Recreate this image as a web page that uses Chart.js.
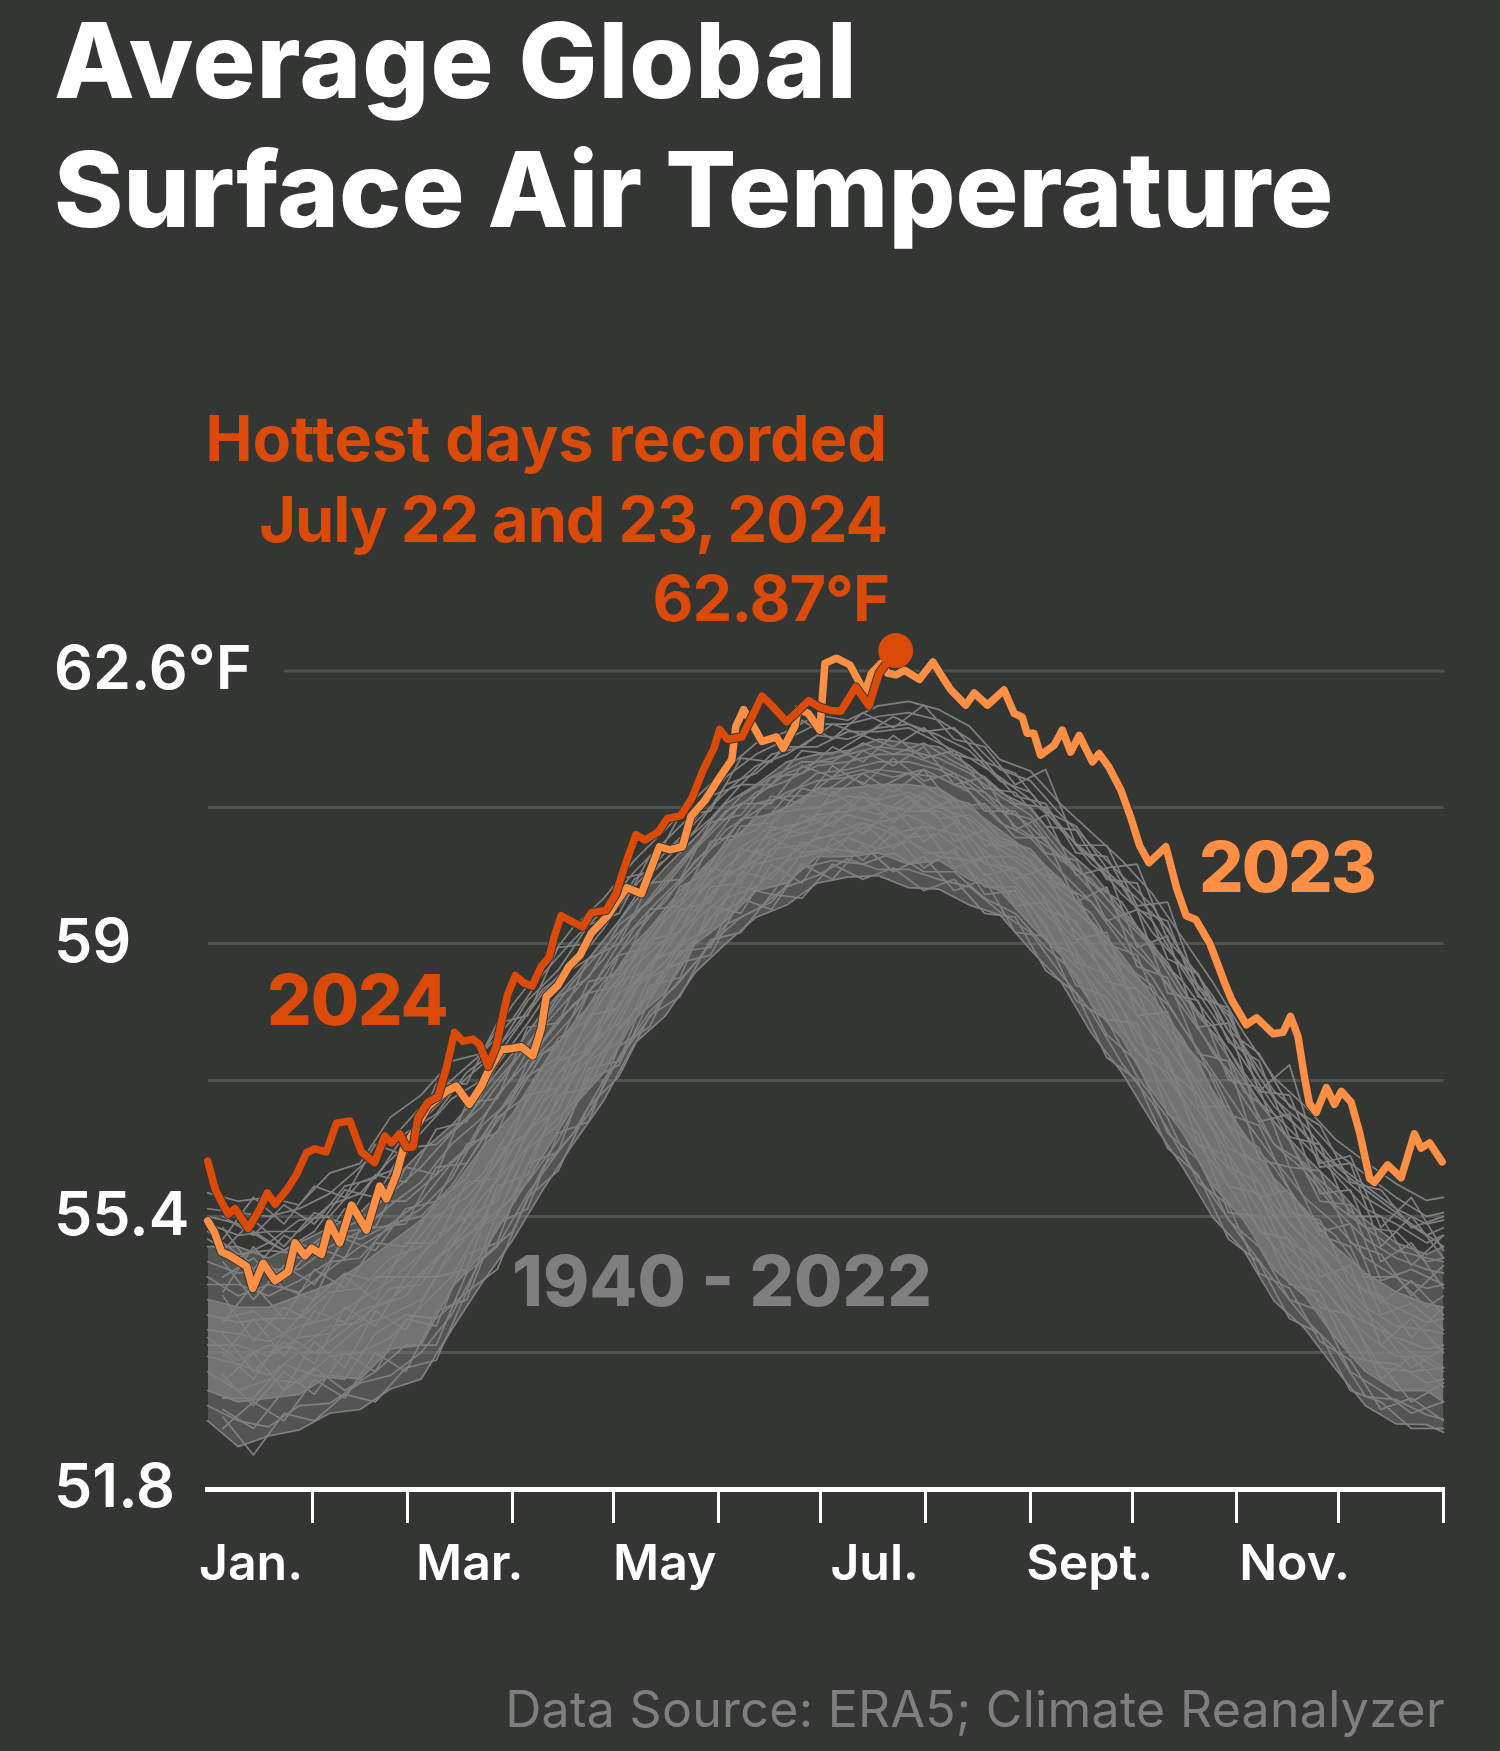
<!DOCTYPE html>
<html>
<head>
<meta charset="utf-8">
<title>Average Global Surface Air Temperature</title>
<script src="https://cdn.jsdelivr.net/npm/chart.js@4"></script>
<style>
    html, body { margin: 0; padding: 0; background: #333633; }
    #wrap { position: relative; width: 1500px; height: 1751px; overflow: hidden; font-family: Inter, sans-serif; }
    #chart { position: absolute; left: 0; top: 0; }
    .note { position: absolute; line-height: 1; white-space: nowrap; }
    .title { left: 54px; color: #fff; font-size: 105px; font-weight: 800; }
    .peak { right: 613px; color: #dc4a0a; font-size: 63px; font-weight: 700; }
    .year { font-size: 70px; font-weight: 800; }
</style>
</head>
<body>
<div id="wrap">
    <canvas id="chart" width="1500" height="1751"></canvas>
    <div class="note title" style="top:7px;letter-spacing:1px">Average Global</div>
    <div class="note title" style="top:136px">Surface Air Temperature</div>
    <div class="note peak" style="top:407px">Hottest days recorded</div>
    <div class="note peak" style="top:488px;letter-spacing:-1px">July 22 and 23, 2024</div>
    <div class="note peak" style="top:567px;right:611px;letter-spacing:-1px">62.87°F</div>
    <div class="note year" style="top:965px;left:267px;letter-spacing:-1px;color:#dc4a0a">2024</div>
    <div class="note year" style="top:832px;left:1199px;letter-spacing:-2px;color:#ff8f45">2023</div>
    <div class="note year" style="top:1246px;left:512px;color:#7f7f7f">1940 - 2022</div>
    <div class="note" style="top:1684px;right:55px;color:#7f7f7f;font-size:50px;letter-spacing:0.3px">Data Source: ERA5; Climate Reanalyzer</div>
</div>
<script>
const yTicks = [51.8, 53.6, 55.4, 57.2, 59, 60.8, 62.6];
const yLabels = ['51.8', '', '55.4', '', '59', '', '62.6°F'];
const monthStarts = [31, 59, 90, 120, 151, 181, 212, 243, 273, 304, 334, 365];
const xLabelDays = [12.8, 77.4, 135, 197, 260.5, 321];
const xLabels = ['Jan.', 'Mar.', 'May', 'Jul.', 'Sept.', 'Nov.'];

const days2024 = [0, 2.2, 4.1, 6.1, 8.1, 12, 15.4, 17.6, 19.9, 23.8, 26.2, 29.2, 31.6, 35, 38, 42, 45.4, 49.3, 52.3, 54.3, 56.7, 58.7, 60.7, 62.1, 65.1, 68, 70.5, 72.9, 75.4, 78.3, 80.3, 82.8, 85.2, 87.7, 88.6, 90.9, 93.5, 95.8, 98.5, 100.8, 102.4, 104.4, 107.7, 110.7, 113.3, 117.6, 120.6, 123.5, 126.5, 129.1, 133, 135.7, 139.7, 143, 146.2, 149.5, 151.2, 153.5, 157.8, 161, 163.7, 166.7, 171, 177.5, 180.8, 184, 187, 191.4, 195.3, 198.3, 203.2];
const temps2024 = [56.13, 55.76, 55.59, 55.43, 55.5, 55.24, 55.5, 55.71, 55.56, 55.78, 55.95, 56.24, 56.29, 56.25, 56.63, 56.66, 56.25, 56.11, 56.46, 56.37, 56.49, 56.31, 56.32, 56.7, 56.91, 56.98, 57.36, 57.83, 57.71, 57.74, 57.67, 57.38, 57.64, 58.16, 58.33, 58.58, 58.48, 58.44, 58.7, 58.82, 59.1, 59.37, 59.29, 59.22, 59.41, 59.44, 59.66, 60.07, 60.44, 60.37, 60.47, 60.65, 60.69, 60.92, 61.28, 61.58, 61.83, 61.7, 61.73, 62.02, 62.27, 62.14, 61.93, 62.21, 62.12, 62.08, 62.07, 62.39, 62.14, 62.57, 62.87];

const days2023 = [0, 2, 4.1, 6.6, 11.5, 13.3, 16.4, 19.9, 23.8, 25.8, 28.7, 30.7, 33.6, 36, 39, 42.5, 46.9, 50.8, 52.8, 55.7, 57.7, 60.7, 65.1, 70.5, 73.4, 77.3, 80.8, 82.8, 86.7, 90.2, 92.6, 96, 98.5, 100, 103.4, 106.7, 110, 113.3, 118.2, 120.6, 123.8, 128.1, 130.4, 133.4, 136.4, 140.2, 142.7, 147, 151.4, 154.8, 156, 158.3, 161.2, 163.7, 168, 170, 173.4, 174.4, 177.4, 180.8, 182.3, 185.7, 189.7, 192.6, 194, 196, 198.9, 200.9, 203.4, 205.8, 210.2, 214.2, 217, 219.5, 223.9, 226.4, 230.3, 235.2, 238.2, 240.6, 242, 244, 246, 250, 252.4, 254.9, 257.4, 261.3, 263.3, 266.2, 269.7, 272.6, 275.2, 278, 283, 286.2, 289, 291.8, 296, 300.4, 302.4, 306.8, 309.8, 314.7, 317.6, 319.8, 322, 324, 325.4, 327.4, 330.4, 332.8, 334.8, 337.7, 340.2, 343.2, 344.6, 348.5, 352.5, 356.4, 358.4, 360.9, 364.6];
const temps2023 = [55.34, 55.19, 54.93, 54.88, 54.74, 54.45, 54.78, 54.55, 54.67, 55.05, 54.88, 54.98, 54.9, 55.31, 55.05, 55.55, 55.22, 55.8, 55.63, 55.95, 56.28, 56.5, 56.85, 57.05, 57.12, 56.88, 57.12, 57.31, 57.6, 57.62, 57.64, 57.52, 57.88, 58.3, 58.45, 58.7, 58.85, 59.14, 59.37, 59.54, 59.74, 59.66, 59.93, 60.28, 60.24, 60.28, 60.68, 60.9, 61.21, 61.43, 61.87, 62.09, 61.87, 61.67, 61.73, 61.58, 61.87, 62.1, 62.04, 61.82, 62.7, 62.77, 62.68, 62.44, 62.3, 62.57, 62.7, 62.57, 62.55, 62.61, 62.49, 62.72, 62.52, 62.35, 62.15, 62.31, 62.15, 62.35, 62.04, 61.99, 61.78, 61.78, 61.49, 61.62, 61.82, 61.53, 61.75, 61.4, 61.51, 61.33, 61.03, 60.67, 60.3, 60.07, 60.28, 59.73, 59.37, 59.32, 59, 58.48, 58.26, 57.93, 58.02, 57.81, 57.83, 58.04, 57.78, 57.22, 56.89, 56.77, 57.1, 56.88, 57.05, 56.91, 56.51, 55.9, 55.85, 56.08, 55.91, 56.49, 56.3, 56.37, 56.12];

const peakDay = [203.2];
const peakTemp = [62.87];
const topGridDays = [22.8, 365];

const grayDays = [0, 9, 18, 27, 36, 45, 54, 63, 72, 81, 90, 99, 108, 117, 126, 135, 144, 153, 162, 171, 180, 189, 198, 207, 216, 225, 234, 243, 252, 261, 270, 279, 288, 297, 306, 315, 324, 333, 342, 351, 360, 365];
const gray01 = [52.7, 52.36, 52.5, 52.58, 52.8, 52.85, 53.12, 53.25, 53.9, 54.52, 55.08, 55.75, 56.36, 56.93, 57.68, 58.04, 58.62, 59, 59.35, 59.51, 59.8, 59.88, 59.9, 59.74, 59.72, 59.51, 59.38, 58.92, 58.5, 57.82, 57.3, 56.64, 56.05, 55.38, 54.95, 54.28, 53.92, 53.39, 52.9, 52.66, 52.65, 52.55];
const gray02 = [52.9, 52.7, 52.62, 52.9, 52.93, 53.2, 53.3, 53.6, 54.1, 54.85, 55.2, 56.05, 56.5, 57.2, 57.75, 58.3, 58.75, 59.25, 59.45, 59.75, 59.9, 60.12, 59.98, 59.98, 59.85, 59.75, 59.42, 59.15, 58.6, 58.1, 57.42, 56.9, 56.2, 55.65, 55.08, 54.55, 54.05, 53.65, 53.02, 52.98, 52.78, 52.72];
const gray03 = [53.1, 52.95, 53, 53.05, 53.3, 53.25, 53.65, 53.7, 54.45, 54.9, 55.55, 56.2, 56.85, 57.3, 58, 58.35, 59, 59.3, 59.7, 59.8, 60.15, 60.15, 60.2, 60.05, 60.1, 59.85, 59.7, 59.25, 58.85, 58.2, 57.75, 57.05, 56.5, 55.8, 55.35, 54.7, 54.35, 53.8, 53.35, 53.1, 53.1, 52.95];
const gray04 = [53.35, 53.1, 53.25, 53.2, 53.55, 53.6, 53.8, 54.2, 54.6, 55.3, 55.65, 56.5, 56.9, 57.6, 58.1, 58.65, 59.05, 59.6, 59.75, 60.1, 60.2, 60.4, 60.25, 60.35, 60.15, 60.1, 59.75, 59.5, 58.9, 58.5, 57.85, 57.35, 56.6, 56.1, 55.5, 55, 54.45, 54.1, 53.5, 53.45, 53.2, 53.25];
const gray05 = [53.55, 53.45, 53.3, 53.6, 53.6, 53.95, 54.1, 54.3, 54.9, 55.35, 56.05, 56.6, 57.25, 57.7, 58.4, 58.75, 59.3, 59.65, 60.05, 60.15, 60.4, 60.45, 60.6, 60.4, 60.45, 60.15, 60, 59.6, 59.2, 58.6, 58.15, 57.5, 56.95, 56.25, 55.8, 55.15, 54.8, 54.25, 53.85, 53.55, 53.55, 53.4];
const gray06 = [53.8, 53.5, 53.7, 53.65, 53.95, 54, 54.45, 54.5, 55.1, 55.65, 56.1, 56.9, 57.3, 57.95, 58.45, 59, 59.35, 59.9, 60.1, 60.4, 60.5, 60.7, 60.6, 60.7, 60.5, 60.4, 60.05, 59.85, 59.25, 58.85, 58.3, 57.8, 57.05, 56.55, 55.9, 55.4, 54.9, 54.5, 54, 53.8, 53.65, 53.7];
const gray07 = [53.9, 53.85, 53.75, 53.95, 54.05, 54.3, 54.55, 54.9, 55.25, 55.8, 56.45, 57, 57.55, 58.05, 58.7, 59.05, 59.6, 60, 60.35, 60.5, 60.7, 60.75, 60.85, 60.75, 60.75, 60.5, 60.25, 59.95, 59.5, 59, 58.55, 57.9, 57.35, 56.65, 56.15, 55.55, 55.1, 54.65, 54.2, 53.95, 53.9, 53.85];
const gray08 = [54.1, 54, 54.05, 54.05, 54.4, 54.45, 54.85, 55, 55.6, 55.95, 56.6, 57.25, 57.65, 58.3, 58.8, 59.3, 59.7, 60.15, 60.4, 60.75, 60.8, 60.95, 60.9, 61, 60.8, 60.65, 60.3, 60.1, 59.6, 59.25, 58.6, 58.2, 57.45, 56.9, 56.25, 55.8, 55.25, 54.85, 54.4, 54.2, 54, 54.05];
const gray09 = [54.3, 54.2, 54.2, 54.35, 54.5, 54.75, 55.05, 55.35, 55.75, 56.3, 56.75, 57.4, 57.95, 58.4, 59, 59.4, 59.9, 60.3, 60.65, 60.8, 61.05, 61.05, 61.1, 61.1, 61.05, 60.8, 60.5, 60.2, 59.85, 59.3, 58.85, 58.3, 57.75, 57.05, 56.5, 55.9, 55.5, 55, 54.65, 54.4, 54.25, 54.2];
const gray10 = [54.5, 54.5, 54.35, 54.55, 54.8, 54.85, 55.3, 55.6, 56.1, 56.45, 57.05, 57.6, 58.05, 58.65, 59.1, 59.6, 60, 60.5, 60.75, 61, 61.15, 61.2, 61.3, 61.25, 61.2, 61, 60.6, 60.4, 59.95, 59.55, 59, 58.55, 57.9, 57.3, 56.7, 56.15, 55.65, 55.3, 54.85, 54.6, 54.45, 54.5];
const gray11 = [54.8, 54.65, 54.7, 54.7, 55, 55.2, 55.55, 55.85, 56.35, 56.7, 57.25, 57.9, 58.35, 58.8, 59.4, 59.75, 60.25, 60.65, 61, 61.15, 61.35, 61.4, 61.5, 61.5, 61.35, 61.15, 60.85, 60.55, 60.15, 59.7, 59.25, 58.75, 58.15, 57.6, 56.95, 56.35, 56, 55.5, 55.1, 54.85, 54.7, 54.65];
const gray12 = [55, 55, 54.85, 55.05, 55.25, 55.45, 55.85, 56.25, 56.6, 57.05, 57.55, 58.1, 58.55, 59.05, 59.55, 60, 60.4, 60.85, 61.1, 61.4, 61.5, 61.55, 61.7, 61.65, 61.6, 61.35, 61, 60.8, 60.3, 59.95, 59.45, 59, 58.4, 57.8, 57.2, 56.65, 56.2, 55.8, 55.35, 55.05, 54.9, 55];
const gray13 = [55.3, 55.15, 55.2, 55.2, 55.55, 55.7, 56.15, 56.5, 56.95, 57.2, 57.8, 58.35, 58.8, 59.25, 59.75, 60.2, 60.6, 61, 61.35, 61.5, 61.75, 61.7, 61.85, 61.9, 61.75, 61.55, 61.15, 61, 60.5, 60.15, 59.65, 59.3, 58.65, 58.05, 57.45, 56.85, 56.5, 56, 55.65, 55.4, 55.15, 55.25];
const gray14 = [55.5, 55.45, 55.4, 55.5, 55.7, 56.05, 56.4, 56.85, 57.2, 57.55, 58, 58.6, 59.05, 59.45, 59.95, 60.35, 60.75, 61.2, 61.5, 61.7, 61.9, 61.9, 62, 62.05, 61.95, 61.7, 61.3, 61.15, 60.7, 60.3, 59.9, 59.5, 58.85, 58.3, 57.65, 57.05, 56.7, 56.25, 55.95, 55.65, 55.4, 55.45];
const gray15 = [55.71, 55.6, 55.65, 55.55, 55.97, 56.1, 56.71, 57, 57.45, 57.55, 58.19, 58.7, 59.22, 59.6, 60.1, 60.5, 60.92, 61.3, 61.65, 61.8, 62.02, 61.95, 62.14, 62.2, 62.09, 61.87, 61.43, 61.28, 60.84, 60.47, 60.1, 59.66, 59.07, 58.48, 57.82, 57.23, 56.86, 56.42, 56.12, 55.83, 55.61, 55.65];
const gray16 = [55.2, 54.9, 54.95, 54.9, 55.2, 55.1, 55.3, 55.4, 55.8, 56.4, 56.9, 57.55, 57.85, 58.5, 58.85, 59.4, 59.75, 60.35, 60.5, 60.95, 60.95, 61.2, 61.05, 61.25, 60.95, 60.85, 60.4, 60.25, 59.7, 59.4, 58.75, 58.45, 57.7, 57.25, 56.45, 56.05, 55.45, 55.15, 54.6, 54.6, 54.2, 54.35];
const gray17 = [53.7, 53.7, 53.55, 53.8, 53.85, 54.15, 54.3, 54.65, 55, 55.5, 56.3, 56.75, 57.4, 57.8, 58.5, 58.9, 59.45, 59.85, 60.2, 60.45, 60.6, 60.85, 60.7, 60.95, 60.65, 60.7, 60.35, 60.25, 59.8, 59.55, 59.1, 58.7, 58.25, 57.55, 57.1, 56.35, 56.1, 55.55, 55.25, 54.95, 54.85, 54.8];
const gray18 = [54.6, 54.35, 54.5, 54.4, 54.7, 55, 55.25, 55.5, 55.9, 56.6, 56.95, 57.7, 58.2, 58.55, 59.2, 59.55, 60.1, 60.4, 60.85, 60.95, 61.25, 61.3, 61.4, 61.4, 61.3, 61.1, 60.75, 60.65, 60.1, 59.85, 59.35, 58.95, 58.3, 57.9, 57.3, 56.75, 56.35, 55.95, 55.5, 55.3, 55.05, 55.15];
const gray19 = [55.1, 54.85, 55.05, 54.85, 55.15, 55.35, 55.7, 56.05, 56.5, 56.85, 57.4, 57.95, 58.5, 58.95, 59.35, 59.85, 60.3, 60.75, 60.95, 61.25, 61.4, 61.5, 61.6, 61.55, 61.45, 61.25, 60.95, 60.7, 60.2, 59.8, 59.55, 58.9, 58.5, 57.95, 57.05, 56.75, 56.05, 55.7, 55.25, 55.2, 54.8, 54.85];
const gray20 = [55.4, 55.3, 55.05, 55.35, 55.4, 55.85, 56, 56.65, 57.05, 57.4, 57.85, 58.4, 58.7, 59.2, 59.85, 60.1, 60.5, 61.1, 61.25, 61.6, 61.6, 61.8, 61.8, 61.85, 61.65, 61.45, 61.2, 60.9, 60.55, 60.05, 59.75, 59.15, 58.7, 58.15, 57.55, 56.95, 56.6, 56.1, 55.8, 55.5, 55.3, 55.35];
const grayLines = [gray01, gray02, gray03, gray04, gray05, gray06, gray07, gray08, gray09, gray10, gray11, gray12, gray13, gray14, gray15, gray16, gray17, gray18, gray19, gray20];

// second batch sits on the days in between, read at the jagged edges and crossings
const grayDaysB = [4.5, 13.5, 22.5, 31.5, 40.5, 49.5, 58.5, 67.5, 76.5, 85.5, 94.5, 103.5, 112.5, 121.5, 130.5, 139.5, 148.5, 157.5, 166.5, 175.5, 184.5, 193.5, 202.5, 211.5, 220.5, 229.5, 238.5, 247.5, 256.5, 265.5, 274.5, 283.5, 292.5, 301.5, 310.5, 319.5, 328.5, 337.5, 346.5, 355.5, 365];
const grayB01 = [52.75, 52.25, 52.8, 52.7, 53.05, 52.95, 53.4, 53.5, 54.4, 54.7, 55.65, 56, 56.85, 57.25, 58.05, 58.3, 59.05, 59.15, 59.65, 59.6, 60.05, 59.85, 60, 59.7, 59.85, 59.4, 59.35, 58.65, 58.35, 57.5, 57.2, 56.3, 55.95, 55.1, 54.8, 54.05, 53.85, 53.1, 52.95, 52.6, 52.6];
const grayB02 = [52.6, 52.95, 52.7, 53.25, 53, 53.6, 53.35, 54.15, 54.3, 55.3, 55.5, 56.5, 56.65, 57.65, 57.9, 58.75, 58.85, 59.6, 59.45, 60.05, 59.85, 60.3, 59.95, 60.15, 59.7, 59.85, 59.15, 59.1, 58.25, 58, 57.25, 56.7, 55.85, 55.55, 54.65, 54.45, 53.75, 53.5, 52.85, 53, 52.7];
const grayB03 = [53.3, 52.9, 53.35, 53.05, 53.6, 53.35, 54.05, 53.95, 54.9, 55.05, 56.1, 56.25, 57.35, 57.45, 58.45, 58.55, 59.5, 59.4, 60.05, 59.8, 60.4, 60.1, 60.45, 60, 60.25, 59.65, 59.7, 59.05, 58.85, 58, 57.95, 56.75, 56.5, 55.45, 55.4, 54.5, 54.4, 53.55, 53.45, 52.95, 53.2];
const grayB04 = [53.2, 53.6, 53.1, 53.75, 53.4, 54.15, 53.9, 54.6, 54.7, 55.8, 55.95, 57, 57.1, 57.9, 58.3, 59, 59.2, 59.95, 59.85, 60.35, 60.2, 60.6, 60.25, 60.55, 60, 60.15, 59.5, 59.55, 58.75, 58.6, 57.7, 57.5, 56.35, 56.2, 55.2, 55.1, 54.2, 54.1, 53.25, 53.55, 53.15];
const grayB05 = [53.85, 53.35, 53.75, 53.45, 54.2, 53.95, 54.6, 54.6, 55.4, 55.6, 56.55, 56.8, 57.7, 57.95, 58.75, 58.95, 59.75, 59.8, 60.4, 60.2, 60.7, 60.45, 60.8, 60.35, 60.6, 60.05, 60, 59.45, 59.3, 58.5, 58.4, 57.35, 57, 56.05, 55.85, 55.05, 54.85, 54.1, 53.9, 53.4, 53.65];
const grayB06 = [53.55, 54.05, 53.55, 54.15, 54, 54.6, 54.6, 55.15, 55.4, 56.25, 56.5, 57.3, 57.55, 58.35, 58.6, 59.45, 59.55, 60.25, 60.15, 60.7, 60.55, 60.95, 60.6, 60.95, 60.35, 60.5, 59.85, 60, 59.05, 59.15, 58.05, 58.1, 56.85, 56.85, 55.65, 55.75, 54.6, 54.75, 53.7, 54.05, 53.6];
const grayB07 = [54.35, 53.75, 54.2, 54, 54.6, 54.3, 55.05, 55.05, 55.85, 55.9, 57, 57.1, 58.05, 58.15, 59.05, 59.15, 60, 59.9, 60.55, 60.45, 61, 60.75, 61.1, 60.75, 60.9, 60.3, 60.3, 59.85, 59.55, 59, 58.85, 57.9, 57.45, 56.6, 56.3, 55.45, 55.35, 54.5, 54.35, 53.8, 54.2];
const grayB08 = [54, 54.5, 54.05, 54.7, 54.45, 55.05, 55, 55.6, 55.9, 56.7, 57, 57.75, 58, 58.85, 58.95, 59.75, 59.95, 60.55, 60.6, 61.05, 60.95, 61.25, 61, 61.3, 60.8, 60.85, 60.4, 60.4, 59.55, 59.75, 58.7, 58.55, 57.55, 57.45, 56.15, 56.05, 55.2, 55.3, 54.25, 54.55, 54.1];
const grayB09 = [54.8, 54.3, 54.75, 54.5, 55.1, 54.95, 55.5, 55.6, 56.35, 56.5, 57.45, 57.65, 58.5, 58.6, 59.45, 59.5, 60.35, 60.45, 60.95, 60.85, 61.35, 61.1, 61.45, 61.15, 61.25, 60.75, 60.75, 60.2, 60.1, 59.3, 59.45, 58.35, 58.25, 57.2, 57.1, 56.05, 56, 55.05, 54.9, 54.35, 54.75];
const grayB10 = [54.4, 55, 54.55, 55, 54.85, 55.6, 55.6, 55.95, 56.3, 57, 57.45, 58, 58.35, 59, 59.45, 59.85, 60.3, 60.85, 60.85, 61.35, 61.2, 61.55, 61.35, 61.6, 61.1, 61.2, 60.5, 60.7, 59.9, 60, 58.95, 59.1, 57.9, 57.95, 56.65, 56.75, 55.7, 55.75, 54.8, 55.05, 54.45];
const grayB11 = [55.25, 54.7, 55.15, 54.95, 55.5, 55.25, 56.05, 55.95, 56.9, 56.95, 57.9, 57.95, 58.8, 59, 59.8, 59.85, 60.6, 60.7, 61.2, 61.25, 61.6, 61.4, 61.75, 61.45, 61.55, 61.05, 61, 60.55, 60.5, 59.85, 59.8, 58.8, 58.6, 57.7, 57.45, 56.45, 56.35, 55.4, 55.4, 54.75, 55.15];
const grayB12 = [54.95, 55.35, 55, 55.45, 55.3, 55.95, 55.85, 56.55, 56.65, 57.4, 57.95, 58.55, 58.8, 59.3, 59.9, 60.3, 60.65, 61.1, 61.1, 61.55, 61.5, 61.75, 61.6, 61.85, 61.5, 61.4, 60.95, 60.85, 60.2, 60.15, 59.45, 59.3, 58.3, 58.15, 57.05, 57, 56.05, 56.1, 55, 55.4, 54.85];
const grayB13 = [55.4, 55.15, 55.55, 55.3, 55.8, 55.9, 56.5, 56.75, 57.3, 57.6, 58.25, 58.65, 59.25, 59.4, 60.15, 60.35, 60.95, 61.1, 61.5, 61.6, 61.9, 61.75, 62, 61.8, 61.85, 61.4, 61.25, 60.75, 60.55, 60, 60.05, 59.05, 58.6, 57.85, 57.55, 56.85, 56.6, 55.85, 55.75, 55.25, 55.4];
const grayB14 = [55.1, 55.65, 55.3, 55.8, 55.65, 56.35, 56.2, 57.15, 57.15, 57.95, 58.05, 58.95, 59, 59.85, 59.95, 60.7, 60.75, 61.45, 61.4, 61.95, 61.7, 62.05, 61.85, 62.15, 61.7, 61.6, 61.1, 61.3, 60.3, 60.3, 59.5, 59.55, 58.4, 58.1, 57.05, 57.4, 56.1, 56.2, 55.25, 55.65, 54.95];
const grayB15 = [53, 53, 53.45, 53.3, 53.25, 53.85, 54.1, 54.05, 54.4, 55.45, 55.85, 56.4, 57.2, 57.4, 58.25, 58.9, 58.95, 59.75, 59.65, 60.2, 60.25, 60.2, 60.55, 60.2, 60.2, 59.75, 59.75, 59.25, 58.45, 58.3, 57.55, 57.3, 56.6, 55.8, 55.7, 54.8, 54.5, 54.05, 53.4, 53.35, 53.4];
const grayB16 = [54.05, 54.15, 53.85, 54.3, 54.65, 54.55, 54.9, 55.4, 55.65, 56.1, 56.75, 57.45, 57.6, 58.5, 58.65, 59.35, 59.85, 60, 60.5, 60.6, 60.7, 61, 60.75, 61, 60.7, 60.15, 60.15, 59.9, 59.65, 58.9, 58.55, 58.2, 57.6, 56.75, 56.6, 55.75, 55.15, 55, 54.1, 54.25, 53.9];
const grayB17 = [54.6, 54.85, 54.45, 54.3, 55.2, 55.25, 55.3, 56.05, 56.1, 56.75, 57.25, 57.5, 58.35, 58.45, 59.2, 59.7, 60.05, 60.65, 60.7, 60.9, 61.2, 61.3, 61.2, 61.3, 61.1, 61, 60.55, 60.3, 60, 59.6, 59.2, 58.75, 58.05, 57.6, 56.9, 56.4, 55.6, 55.55, 54.55, 54.7, 54.5];
const grayB18 = [55.55, 55.2, 54.95, 55.2, 55.75, 55.65, 56.3, 56.35, 56.7, 57.2, 57.65, 58.3, 58.55, 59.25, 59.55, 60.05, 60.5, 60.95, 61.2, 61.4, 61.4, 61.65, 61.5, 61.65, 61.4, 61.2, 60.85, 60.8, 60.3, 59.95, 59.6, 59.2, 58.45, 58.05, 57.25, 56.7, 56.25, 55.9, 55.6, 55.3, 55];
const grayB19 = [52.85, 52.6, 53.1, 53.4, 53.1, 53.35, 53.7, 53.7, 54.65, 55, 55.7, 56.25, 56.75, 57.5, 58.1, 58.5, 59, 59.35, 59.55, 60, 60.1, 60.05, 60.2, 59.95, 59.95, 59.6, 59.4, 58.95, 58.6, 57.8, 57.45, 56.5, 56.15, 55.35, 55, 54.3, 54.15, 53.35, 53.1, 52.8, 52.95];
const grayB20 = [53.6, 53.25, 53.85, 53.6, 53.9, 54.2, 54.35, 54.85, 55.15, 55.4, 56.3, 56.6, 57.45, 57.7, 58.55, 58.75, 59.35, 59.55, 60.25, 60.3, 60.45, 60.6, 60.45, 60.55, 60.45, 59.9, 60, 59.6, 59.15, 58.75, 58.2, 57.85, 57.1, 56.3, 56.1, 55.3, 54.9, 54.3, 53.95, 53.6, 53.35];
const grayLinesB = [grayB01, grayB02, grayB03, grayB04, grayB05, grayB06, grayB07, grayB08, grayB09, grayB10, grayB11, grayB12, grayB13, grayB14, grayB15, grayB16, grayB17, grayB18, grayB19, grayB20];

const toPoints = (xs, ys) => ys.map((y, i) => ({ x: xs[i], y }));

const bg = '#333633';
const grayColor = '#808080';
const gridColor = '#4f534f';
const dark = '#dc4a0a';
const light = '#ff8f45';

const line = (xs, ys, color, width, order) => ({
    data: toPoints(xs, ys),
    borderColor: color,
    borderWidth: width,
    pointRadius: 0,
    tension: 0,
    fill: false,
    clip: false,
    order,
    borderCapStyle: 'round',
    borderJoinStyle: 'round'
});

// bands behind the thin lines stand in for the packed mass of 83 years
const band = (upper, lower, color, order) => [
    { ...line(grayDays, upper, 'transparent', 0, order), fill: '+1', backgroundColor: color },
    line(grayDays, lower, 'transparent', 0, order + 1)
];

const datasets = [
    { ...line(peakDay, peakTemp, dark, 0, 0), pointRadius: 17.5, pointBackgroundColor: dark, pointBorderWidth: 0 },
    line(days2024, temps2024, dark, 7.5, 1),
    line(days2024, temps2024, bg, 9.5, 2),
    line(days2023, temps2023, light, 7.5, 3),
    line(days2023, temps2023, bg, 9.5, 4),
    ...grayLines.map(values => line(grayDays, values, grayColor, 1.7, 5)),
    ...grayLinesB.map(values => line(grayDaysB, values, grayColor, 1.7, 5)),
    ...band(gray09, gray03, 'rgba(128,128,128,0.7)', 6),
    ...band(gray12, gray01, 'rgba(128,128,128,0.42)', 8),
    line(topGridDays, [62.6, 62.6], gridColor, 3, 10)
];

new Chart(document.getElementById('chart'), {
    type: 'line',
    data: { datasets },
    options: {
        responsive: false,
        animation: false,
        layout: { padding: { left: 54, right: 56.5, top: 625.6, bottom: 0 } },
        plugins: { legend: { display: false }, title: { display: false }, tooltip: { enabled: false } },
        scales: {
            x: {
                type: 'linear',
                min: 0,
                max: 365,
                afterBuildTicks: scale => {
                    scale.ticks = [...monthStarts, ...xLabelDays].sort((a, b) => a - b).map(value => ({ value }));
                },
                afterFit: scale => { scale.height = 262; },
                border: { color: '#fff', width: 5 },
                grid: {
                    drawOnChartArea: false,
                    tickLength: 34,
                    lineWidth: 3,
                    color: ctx => (ctx.tick && monthStarts.includes(ctx.tick.value) ? '#fff' : 'transparent')
                },
                ticks: {
                    autoSkip: false,
                    maxRotation: 0,
                    minRotation: 0,
                    padding: 12,
                    color: '#fff',
                    font: { family: 'Inter, sans-serif', size: 50, weight: '600' },
                    callback: value => {
                        const i = xLabelDays.indexOf(value);
                        return i >= 0 ? xLabels[i] : '';
                    }
                }
            },
            y: {
                min: 51.8,
                max: 63.2,
                afterBuildTicks: scale => {
                    scale.ticks = yTicks.map(value => ({ value }));
                },
                afterFit: scale => { scale.width = 153.7; },
                border: { display: false },
                grid: {
                    drawTicks: false,
                    lineWidth: 3,
                    color: ctx => (ctx.index > 0 && ctx.index < yTicks.length - 1 ? gridColor : 'transparent')
                },
                ticks: {
                    autoSkip: false,
                    mirror: true,
                    crossAlign: 'near',
                    padding: -153.7,
                    color: '#fff',
                    font: { family: 'Inter, sans-serif', size: 61, weight: '600' },
                    callback: (value, i) => yLabels[i]
                }
            }
        }
    }
});
</script>
</body>
</html>
